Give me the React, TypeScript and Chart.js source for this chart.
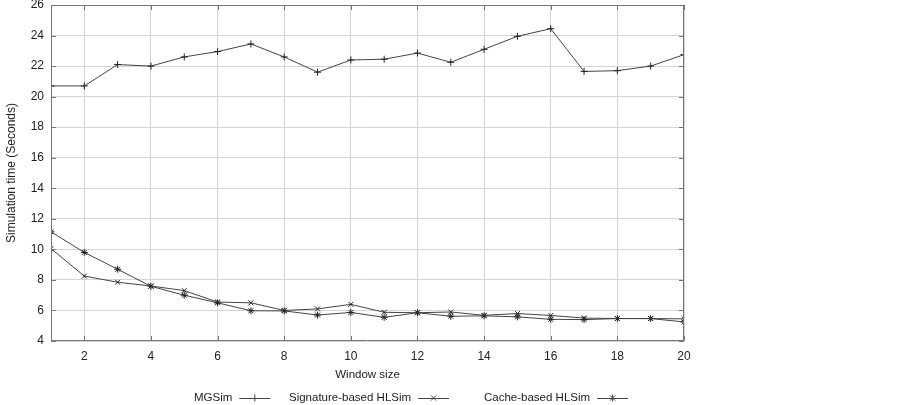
import React, { useEffect, useRef } from "react";
import { Chart, registerables } from "chart.js";

Chart.register(...registerables);

const windowSizes = [1, 2, 3, 4, 5, 6, 7, 8, 9, 10, 11, 12, 13, 14, 15, 16, 17, 18, 19, 20];
const mgsim = [20.7, 20.7, 22.1, 22.0, 22.6, 22.95, 23.45, 22.6, 21.6, 22.4, 22.45, 22.85, 22.25, 23.1, 23.95, 24.45, 21.65, 21.7, 22.0, 22.75];
const signatureHLSim = [10.05, 8.25, 7.85, 7.6, 7.3, 6.55, 6.5, 6.0, 6.1, 6.4, 5.88, 5.85, 5.9, 5.68, 5.8, 5.67, 5.5, 5.47, 5.47, 5.45];
const cacheHLSim = [11.15, 9.8, 8.7, 7.58, 7.0, 6.5, 5.98, 5.97, 5.7, 5.87, 5.55, 5.85, 5.62, 5.65, 5.58, 5.42, 5.4, 5.47, 5.47, 5.25];
const xTicks = [2, 4, 6, 8, 10, 12, 14, 16, 18, 20];
const seriesNames = ["MGSim", "Signature-based HLSim", "Cache-based HLSim"];
const seriesMarkers = ["cross", "crossRot", "star"];

const FONT = "'Liberation Sans', Arial, sans-serif";
const LINE = "#444";

const frameAndLegend = {
  id: "frameAndLegend",
  afterDraw(chart: any) {
    const { ctx, chartArea } = chart;
    const { left, right, top, bottom } = chartArea;
    const xs = chart.scales.x;
    const ys = chart.scales.y;
    ctx.save();
    ctx.strokeStyle = "#777";
    ctx.lineWidth = 1;
    ctx.beginPath();
    ctx.rect(left + 0.5, top + 0.5, right - left - 1, bottom - top - 1);
    ctx.stroke();
    // inward tick marks
    ctx.beginPath();
    xs.ticks.forEach((t: any) => {
      const px = Math.round(xs.getPixelForValue(t.value)) + 0.5;
      ctx.moveTo(px, bottom);
      ctx.lineTo(px, bottom - 5);
      ctx.moveTo(px, top);
      ctx.lineTo(px, top + 5);
    });
    ys.ticks.forEach((t: any) => {
      const py = Math.round(ys.getPixelForValue(t.value)) + 0.5;
      ctx.moveTo(left, py);
      ctx.lineTo(left + 5, py);
      ctx.moveTo(right, py);
      ctx.lineTo(right - 5, py);
    });
    ctx.stroke();

    // legend: text followed by a line sample with the marker
    const starts = [194, 289, 484];
    const ly = 398;
    ctx.font = "11.5px " + FONT;
    ctx.textBaseline = "middle";
    ctx.textAlign = "left";
    ctx.fillStyle = "#222";
    seriesNames.forEach((name, i) => {
      const x0 = starts[i];
      ctx.fillText(name, x0, ly);
      const w = ctx.measureText(name).width;
      const lx0 = x0 + w + 7;
      const lx1 = lx0 + 31;
      ctx.strokeStyle = LINE;
      ctx.lineWidth = 1;
      ctx.beginPath();
      ctx.moveTo(lx0, ly + 0.5);
      ctx.lineTo(lx1, ly + 0.5);
      ctx.stroke();
      const cx = (lx0 + lx1) / 2;
      const r = 3.5;
      ctx.beginPath();
      const m = seriesMarkers[i];
      if (m === "cross" || m === "star") {
        ctx.moveTo(cx - r, ly + 0.5);
        ctx.lineTo(cx + r, ly + 0.5);
        ctx.moveTo(cx, ly - r);
        ctx.lineTo(cx, ly + r);
      }
      if (m === "crossRot" || m === "star") {
        const d = r * 0.75;
        ctx.moveTo(cx - d, ly - d);
        ctx.lineTo(cx + d, ly + d);
        ctx.moveTo(cx - d, ly + d);
        ctx.lineTo(cx + d, ly - d);
      }
      ctx.stroke();
    });
    ctx.restore();
  },
};

export default function App() {
  const ref = useRef<HTMLCanvasElement | null>(null);
  useEffect(() => {
    if (!ref.current) return;
    const mk = (i: number, data: number[]) => ({
      label: seriesNames[i],
      data: windowSizes.map((x, k) => ({ x, y: data[k] })),
      borderColor: LINE,
      backgroundColor: LINE,
      borderWidth: 1,
      pointStyle: seriesMarkers[i],
      pointRadius: 3.5,
      pointBorderWidth: 1,
      pointBorderColor: "#222",
      tension: 0,
    });
    const chart = new Chart(ref.current, {
      type: "line",
      data: {
        datasets: [mk(0, mgsim), mk(1, signatureHLSim), mk(2, cacheHLSim)],
      },
      plugins: [frameAndLegend],
      options: {
        animation: false,
        responsive: false,
        maintainAspectRatio: false,
        layout: { padding: { left: 0, right: 218, top: 5, bottom: 19 } },
        plugins: { legend: { display: false }, tooltip: { enabled: false } },
        scales: {
          x: {
            type: "linear",
            min: 1,
            max: 20,
            afterBuildTicks: (s: any) => {
              s.ticks = xTicks.map((v) => ({ value: v }));
            },
            afterFit: (s: any) => {
              s.height = 45;
              s.paddingLeft = 0;
              s.paddingRight = 0;
            },
            grid: { color: "#d4d4d4", drawTicks: false, lineWidth: 1 },
            border: { display: false },
            ticks: { color: "#222", font: { family: FONT, size: 12 }, padding: 8, maxRotation: 0 },
            title: { display: true, text: "Window size", color: "#222", font: { family: FONT, size: 11.5 } },
          },
          y: {
            min: 4,
            max: 26,
            ticks: { stepSize: 2, color: "#222", font: { family: FONT, size: 12 }, padding: 7 },
            afterFit: (s: any) => {
              s.width = 51;
              s.paddingTop = 0;
              s.paddingBottom = 0;
            },
            grid: { color: "#d4d4d4", drawTicks: false, lineWidth: 1 },
            border: { display: false },
            title: { display: true, text: "Simulation time (Seconds)", color: "#222", font: { family: FONT, size: 12 } },
          },
        },
      } as any,
    });
    return () => chart.destroy();
  }, []);
  return (
    <div style={{ position: "absolute", left: 0, top: 0, width: 902, height: 405, background: "#fff" }}>
      <canvas ref={ref} width={902} height={405} style={{ width: 902, height: 405 }} />
    </div>
  );
}
